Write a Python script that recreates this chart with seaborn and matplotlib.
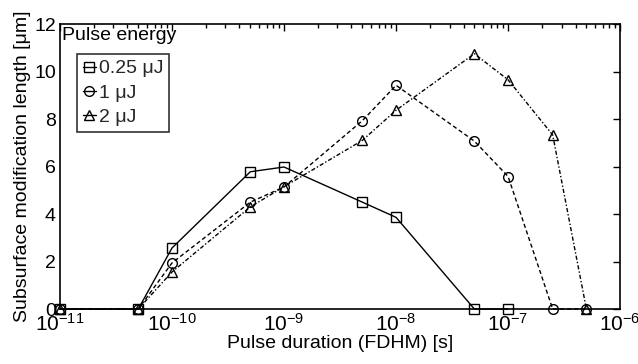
import matplotlib
matplotlib.use("Agg")
import matplotlib.pyplot as plt
import seaborn as sns
import numpy as np
import pandas as pd
from matplotlib.ticker import LogLocator, NullFormatter, FixedLocator

sns.set_theme(style="white")
plt.rcParams['font.family'] = ['Liberation Sans', 'DejaVu Sans']
plt.rcParams['mathtext.fontset'] = 'custom'
plt.rcParams['mathtext.rm'] = 'Liberation Sans'
plt.rcParams['mathtext.it'] = 'Liberation Sans:italic'
plt.rcParams['mathtext.bf'] = 'Liberation Sans:bold'
plt.rcParams['mathtext.default'] = 'regular'

# Data
dur_025 = [1e-11, 5e-11, 1e-10, 5e-10, 1e-9, 5e-9, 1e-8, 5e-8, 1e-7]
len_025 = [0, 0, 2.57, 5.78, 5.98, 4.5, 3.86, 0, 0]
dur_1 = [1e-11, 5e-11, 1e-10, 5e-10, 1e-9, 5e-9, 1e-8, 5e-8, 1e-7, 2.5e-7, 5e-7]
len_1 = [0, 0, 1.94, 4.5, 5.14, 7.93, 9.42, 7.07, 5.58, 0, 0]
dur_2 = [1e-11, 5e-11, 1e-10, 5e-10, 1e-9, 5e-9, 1e-8, 5e-8, 1e-7, 2.5e-7, 5e-7]
len_2 = [0, 0, 1.56, 4.3, 5.15, 7.1, 8.37, 10.75, 9.65, 7.33, 0]
labels = ["0.25 \u03bcJ", "1 \u03bcJ", "2 \u03bcJ"]
xtick_vals = [1e-11, 1e-10, 1e-9, 1e-8, 1e-7, 1e-6]
ytick_vals = [0, 2, 4, 6, 8, 10, 12]

df = pd.concat([
    pd.DataFrame({"dur": dur_025, "len": len_025, "energy": labels[0]}),
    pd.DataFrame({"dur": dur_1, "len": len_1, "energy": labels[1]}),
    pd.DataFrame({"dur": dur_2, "len": len_2, "energy": labels[2]}),
])

fig = plt.figure(figsize=(6.38, 3.64), dpi=100)
ax = fig.add_axes([0.094, 0.151, 0.878, 0.783])

styles = {labels[0]: ("s", "-"), labels[1]: ("o", (0, (3, 2))), labels[2]: ("^", (0, (3, 1.5, 1, 1.5)))}
for lab in labels:
    sub = df[df["energy"] == lab]
    m, ls = styles[lab]
    sns.lineplot(data=sub, x="dur", y="len", ax=ax, color="black", marker=m,
                 markersize=7, markerfacecolor="none", markeredgecolor="black",
                 markeredgewidth=1.0, linestyle=ls, linewidth=1.0, label=lab,
                 estimator=None, sort=False, clip_on=False, zorder=5)

ax.set_xscale("log")
ax.set_xlim(1e-11, 1e-6)
ax.set_ylim(0, 12)
ax.set_yticks(ytick_vals)
ax.xaxis.set_major_locator(FixedLocator(xtick_vals))
ax.xaxis.set_minor_locator(LogLocator(base=10, subs=np.arange(2, 10), numticks=20))
ax.xaxis.set_minor_formatter(NullFormatter())
ax.tick_params(axis="both", which="both", direction="in", top=True, right=True,
               labelsize=14, colors="black", length=5, width=1)
ax.tick_params(axis="x", which="minor", length=3)
ax.tick_params(axis="x", which="major", labelsize=15, pad=3)
ax.tick_params(axis="y", which="major", pad=3)
for s in ax.spines.values():
    s.set_color("black")
    s.set_linewidth(1.2)
ax.set_xlabel("Pulse duration (FDHM) [s]", fontsize=14, color="black", labelpad=0)
ax.set_ylabel("Subsurface modification length [\u03bcm]", fontsize=14, color="black", labelpad=2)

ax.text(0.004, 0.99, "Pulse energy", transform=ax.transAxes, fontsize=14,
        ha="left", va="top", color="black")
leg = ax.legend(loc="upper left", bbox_to_anchor=(0.03, 0.895), fontsize=14,
                frameon=True, fancybox=False, edgecolor="black", handlelength=0.7,
                handletextpad=0.15, borderpad=0.3, labelspacing=0.35, borderaxespad=0)
leg.get_frame().set_linewidth(1.2)
for h in leg.get_lines():
    h.set_linestyle("-")

fig.savefig("out.png", dpi=100)
